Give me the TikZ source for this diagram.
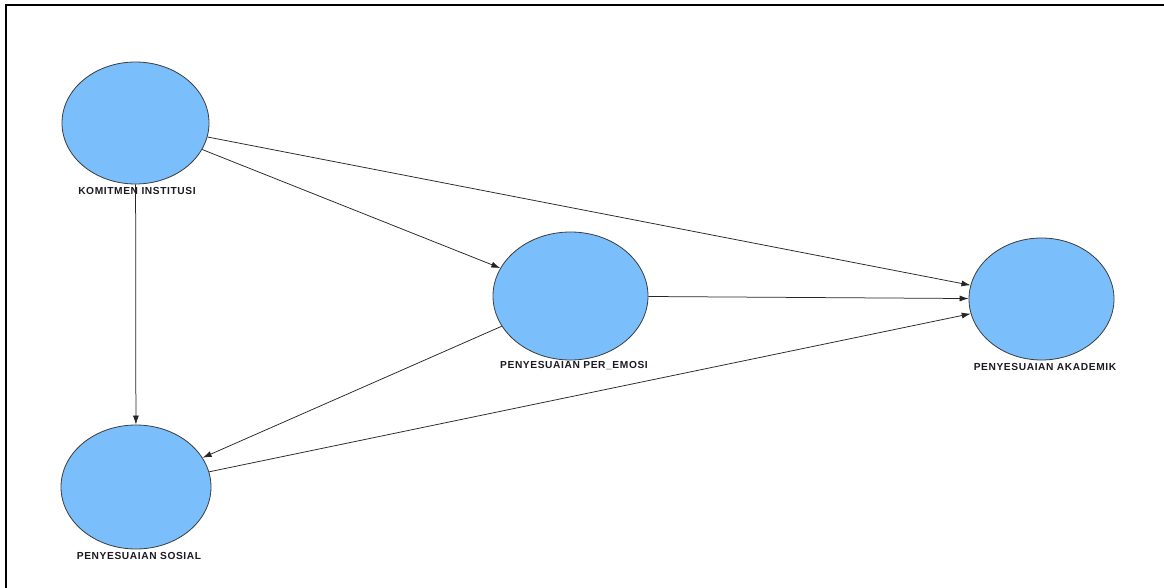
\documentclass[tikz,border=0pt]{standalone}
\usepackage{fontspec}
\newfontfamily\labfont[LetterSpace=6]{Liberation Sans}
\usetikzlibrary{shapes.geometric,arrows.meta}
\definecolor{lvfill}{HTML}{7ABEFB}
\definecolor{lvline}{HTML}{3C3C3C}
\definecolor{labcol}{HTML}{1E1A24}
\tikzset{
  lv/.style={ellipse,draw=lvline,fill=lvfill,line width=0.8pt,inner sep=0pt},
  lab/.style={font=\labfont\bfseries\fontsize{10.2}{12}\selectfont,text=labcol,inner sep=0pt},
  path/.style={draw=black!85,line width=0.75pt,-{Latex[length=9pt,width=6pt]}}
}
\begin{document}
\begin{tikzpicture}[x=1pt,y=-1pt]
\useasboundingbox (0,0) rectangle (1164,588);
\fill[white] (0,0) rectangle (1164,588);
\draw[line width=2pt,black] (6,588) -- (6,5) -- (1164,5);
\node[lv,minimum width=147pt,minimum height=122pt] (ki) at (135.5,123) {};
\node[lv,minimum width=150pt,minimum height=124pt] (ps) at (136,487) {};
\node[lv,minimum width=155pt,minimum height=128pt] (pe) at (570.5,296) {};
\node[lv,minimum width=145pt,minimum height=122pt] (pa) at (1041.5,299) {};
\node[lab] (kil) at (137,191) {KOMITMEN INSTITUSI};
\node[lab] (psl) at (139,556) {PENYESUAIAN SOSIAL};
\node[lab] (pel) at (574,366) {PENYESUAIAN PER\_EMOSI};
\node[lab] (pal) at (1045,367) {PENYESUAIAN AKADEMIK};
\draw[path] (ki) -- (ps);
\draw[path] (ki) -- (pe);
\draw[path] (ki) -- (pa);
\draw[path] (pe) -- (pa);
\draw[path] (pe) -- (ps);
\draw[path] (ps) -- (pa);
\end{tikzpicture}
\end{document}
